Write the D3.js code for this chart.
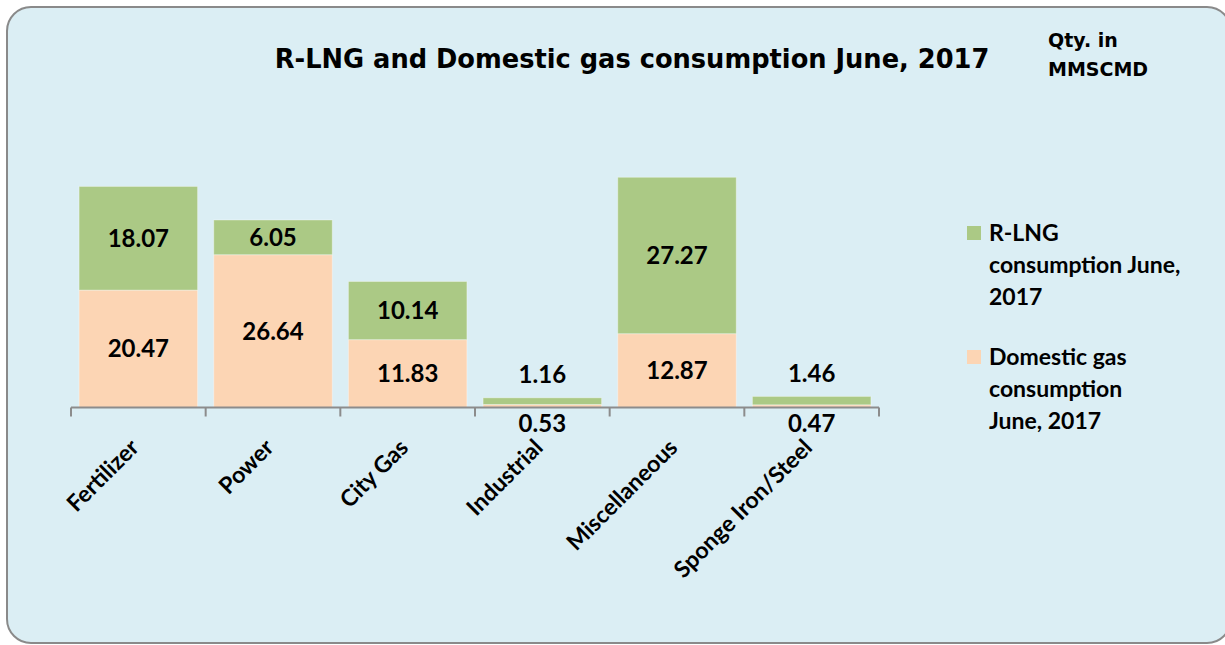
<!DOCTYPE html>
<html><head><meta charset="utf-8">
<script src="https://cdn.jsdelivr.net/npm/d3@7"></script>
<style>html,body{margin:0;padding:0;background:#fff;}svg{display:block;}</style>
</head><body>
<svg id="chart" width="1225" height="645"></svg>
<script>
const categories = ["Fertilizer","Power","City Gas","Industrial","Miscellaneous","Sponge Iron/Steel"];
const domestic = [20.47, 26.64, 11.83, 0.53, 12.87, 0.47];
const rlng = [18.07, 6.05, 10.14, 1.16, 27.27, 1.46];
const seriesNames = ["R-LNG consumption June, 2017", "Domestic gas consumption June, 2017"];
const legendLines = [["R-LNG","consumption June,","2017"],["Domestic gas","consumption","June, 2017"]];
const titleText = "R-LNG and Domestic gas consumption June, 2017";
const unitLines = ["Qty. in","MMSCMD"];
const yDomain = [0, 45];

const colors = {rlng:"#ABC985", dom:"#FCD5B4", bg:"#DBEEF4", border:"#8a8a8a", axis:"#8c8c8c"};
const font = "Lato, 'Open Sans', sans-serif";

const svg = d3.select("#chart");
svg.append("rect").attr("x",7).attr("y",7).attr("width",1224).attr("height",636)
  .attr("rx",24).attr("fill",colors.bg).attr("stroke",colors.border).attr("stroke-width",2);

const x = d3.scaleBand().domain(categories).range([71,879]).paddingInner(0.12).paddingOuter(0.06);
const y = d3.scaleLinear().domain(yDomain).range([407.5,149.4]);

const rows = categories.map((c,i)=>({cat:c, dom:domestic[i], rlng:rlng[i]}));
const stack = d3.stack().keys(["dom","rlng"])(rows);

const g = svg.append("g");
stack.forEach(layer=>{
  g.selectAll(null).data(layer).enter().append("rect")
    .attr("x",d=>x(d.data.cat)).attr("width",x.bandwidth())
    .attr("y",d=>y(d[1])).attr("height",d=>y(d[0])-y(d[1]))
    .attr("fill",layer.key==="dom"?colors.dom:colors.rlng)
    .attr("stroke","rgba(255,255,255,0.35)").attr("stroke-width",1);
});

// axis
const step = x.step();
const edges = categories.map(c=>x(c)-step*x.paddingInner()/2);
edges.push(x(categories[categories.length-1])+x.bandwidth()+step*x.paddingInner()/2);
const y0 = y(0);
g.append("line").attr("x1",edges[0]).attr("x2",edges[edges.length-1]).attr("y1",y0).attr("y2",y0)
  .attr("stroke",colors.axis).attr("stroke-width",2);
g.selectAll(null).data(edges).enter().append("line")
  .attr("x1",d=>d).attr("x2",d=>d).attr("y1",y0).attr("y2",y0+9)
  .attr("stroke",colors.axis).attr("stroke-width",2);

// data labels
stack.forEach(layer=>{
  g.selectAll(null).data(layer).enter().append("text")
    .attr("x",d=>x(d.data.cat)+x.bandwidth()/2)
    .attr("y",d=>{
      const h = y(d[0])-y(d[1]);
      if (h >= 24) return (y(d[0])+y(d[1]))/2;
      return layer.key==="rlng" ? y(d[1]) - 23 : y0 + 16;
    })
    .attr("dy","0.36em").attr("text-anchor","middle")
    .attr("font-family",font).attr("font-weight","bold").attr("font-size",24).attr("fill","#000")
    .text(d=>(d[1]-d[0]).toFixed(2));
});

// x labels
g.selectAll(null).data(categories).enter().append("text")
  .attr("transform",c=>`translate(${x(c)+x.bandwidth()/2+2},449) rotate(-45)`)
  .attr("text-anchor","end")
  .attr("font-family",font).attr("font-weight","bold").attr("font-size",23).attr("fill","#000")
  .text(c=>c);

// title
const title = svg.append("text").attr("x",632).attr("y",68).attr("text-anchor","middle")
  .attr("font-family","'DejaVu Sans', sans-serif").attr("font-weight","bold").attr("font-size",25)
  .attr("fill","#000").text(titleText);
const tl = title.node().getComputedTextLength();
title.attr("font-size", 25*715/tl);

// units
svg.selectAll(null).data(unitLines).enter().append("text")
  .attr("x",1048).attr("y",(d,i)=>47+i*29)
  .attr("font-family","'DejaVu Sans', sans-serif").attr("font-weight","bold").attr("font-size",19)
  .attr("fill","#000").text(d=>d);

// legend
const legendColors = [colors.rlng, colors.dom];
const lg = svg.append("g");
legendLines.forEach((lines,i)=>{
  const top = 233 + i*124;
  lg.append("rect").attr("x",967).attr("y",top-7).attr("width",14).attr("height",14).attr("fill",legendColors[i]);
  lines.forEach((t,j)=>{
    lg.append("text").attr("x",989).attr("y",top+j*32).attr("dy","0.36em")
      .attr("font-family",font).attr("font-weight","bold").attr("font-size",23).attr("fill","#000").text(t);
  });
});
</script>
</body></html>
